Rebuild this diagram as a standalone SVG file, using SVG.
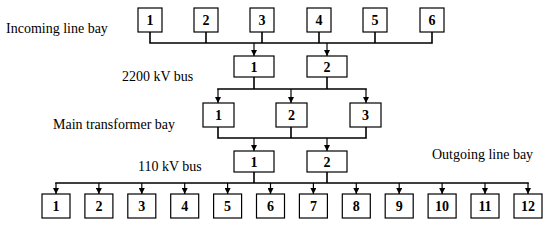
<svg xmlns="http://www.w3.org/2000/svg" width="550" height="225" viewBox="0 0 550 225">
<style>
.box{fill:#fff;stroke:#000;stroke-width:1.2}
.num{font-family:"Liberation Serif",serif;font-weight:bold;font-size:14px;text-anchor:middle;fill:#000}
.lbl{font-family:"Liberation Serif",serif;font-size:14px;fill:#000}
.c{fill:none;stroke:#000;stroke-width:1.6}
.a{fill:none;stroke:#000;stroke-width:1.2;marker-end:url(#ah)}
</style>
<defs>
<marker id="ah" markerUnits="userSpaceOnUse" markerWidth="6" markerHeight="6" refX="6" refY="3" orient="auto">
<path d="M0,0 L6,3 L0,6 z" fill="#000"/>
</marker>
</defs>
<rect width="550" height="225" fill="#fff"/>
<text class="lbl" x="6" y="33">Incoming line bay</text>
<text class="lbl" x="122" y="81">2200 kV bus</text>
<text class="lbl" x="53" y="129">Main transformer bay</text>
<text class="lbl" x="138" y="171">110 kV bus</text>
<text class="lbl" x="432" y="159">Outgoing line bay</text>
<g id="connectors">
<path class="c" d="M150,32V43M206,32V43M262,32V43M319,32V43M375,32V43M432,32V43M149.2,43H432.8"/>
<path class="a" d="M254,43V56"/><path class="a" d="M327,43V56"/>
<path class="c" d="M254,77V89M327,77V89M217.2,89H366.8"/>
<path class="a" d="M218,89V103"/><path class="a" d="M291,89V103"/><path class="a" d="M366,89V103"/>
<path class="c" d="M218,127V138M291,127V138M366,127V138M217.2,138H366.8"/>
<path class="a" d="M254,138V151"/><path class="a" d="M327,138V151"/>
<path class="c" d="M254,172V183M327,172V183M55.2,183H528.8"/>
<path class="a" d="M56,183V194"/><path class="a" d="M98.9,183V194"/><path class="a" d="M141.8,183V194"/><path class="a" d="M184.7,183V194"/><path class="a" d="M227.6,183V194"/><path class="a" d="M270.5,183V194"/><path class="a" d="M313.4,183V194"/><path class="a" d="M356.3,183V194"/><path class="a" d="M399.2,183V194"/><path class="a" d="M442.1,183V194"/><path class="a" d="M485,183V194"/><path class="a" d="M528,183V194"/>
</g>
<g id="in1"><rect class="box" x="138" y="8" width="24" height="24"/><text class="num" x="150" y="25">1</text></g>
<g id="in2"><rect class="box" x="194" y="8" width="24" height="24"/><text class="num" x="206" y="25">2</text></g>
<g id="in3"><rect class="box" x="250" y="8" width="24" height="24"/><text class="num" x="262" y="25">3</text></g>
<g id="in4"><rect class="box" x="307" y="8" width="24" height="24"/><text class="num" x="319" y="25">4</text></g>
<g id="in5"><rect class="box" x="363" y="8" width="24" height="24"/><text class="num" x="375" y="25">5</text></g>
<g id="in6"><rect class="box" x="420" y="8" width="24" height="24"/><text class="num" x="432" y="25">6</text></g>
<g id="b220_1"><rect class="box" x="234" y="56" width="40" height="21"/><text class="num" x="254" y="71.5">1</text></g>
<g id="b220_2"><rect class="box" x="307" y="56" width="40" height="21"/><text class="num" x="327" y="71.5">2</text></g>
<g id="tr1"><rect class="box" x="203" y="103" width="31" height="24"/><text class="num" x="218.5" y="120">1</text></g>
<g id="tr2"><rect class="box" x="276" y="103" width="31" height="24"/><text class="num" x="291.5" y="120">2</text></g>
<g id="tr3"><rect class="box" x="350" y="103" width="31" height="24"/><text class="num" x="365.5" y="120">3</text></g>
<g id="b110_1"><rect class="box" x="234" y="151" width="40" height="21"/><text class="num" x="254" y="166.5">1</text></g>
<g id="b110_2"><rect class="box" x="307" y="151" width="40" height="21"/><text class="num" x="327" y="166.5">2</text></g>
<g id="out1"><rect class="box" x="42" y="194" width="28" height="24"/><text class="num" x="56" y="211">1</text></g>
<g id="out2"><rect class="box" x="84.9" y="194" width="28" height="24"/><text class="num" x="98.9" y="211">2</text></g>
<g id="out3"><rect class="box" x="127.8" y="194" width="28" height="24"/><text class="num" x="141.8" y="211">3</text></g>
<g id="out4"><rect class="box" x="170.7" y="194" width="28" height="24"/><text class="num" x="184.7" y="211">4</text></g>
<g id="out5"><rect class="box" x="213.6" y="194" width="28" height="24"/><text class="num" x="227.6" y="211">5</text></g>
<g id="out6"><rect class="box" x="256.5" y="194" width="28" height="24"/><text class="num" x="270.5" y="211">6</text></g>
<g id="out7"><rect class="box" x="299.4" y="194" width="28" height="24"/><text class="num" x="313.4" y="211">7</text></g>
<g id="out8"><rect class="box" x="342.3" y="194" width="28" height="24"/><text class="num" x="356.3" y="211">8</text></g>
<g id="out9"><rect class="box" x="385.2" y="194" width="28" height="24"/><text class="num" x="399.2" y="211">9</text></g>
<g id="out10"><rect class="box" x="428.1" y="194" width="28" height="24"/><text class="num" x="442.1" y="211">10</text></g>
<g id="out11"><rect class="box" x="471" y="194" width="28" height="24"/><text class="num" x="485" y="211">11</text></g>
<g id="out12"><rect class="box" x="514" y="194" width="28" height="24"/><text class="num" x="528" y="211">12</text></g>
</svg>
